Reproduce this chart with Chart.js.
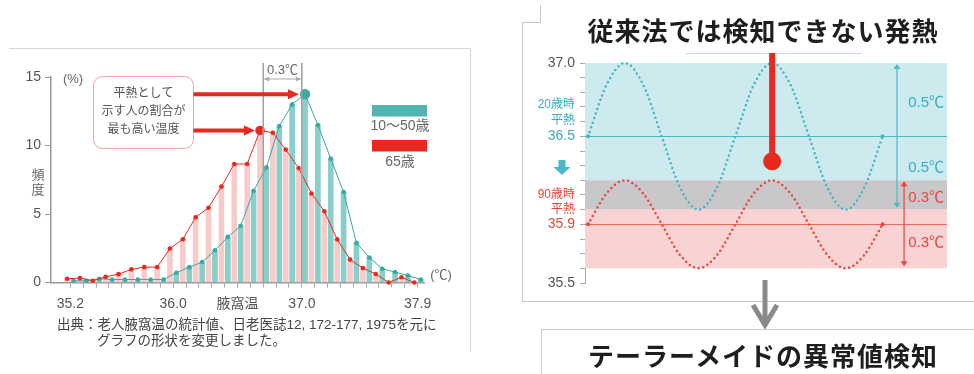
<!DOCTYPE html>
<html lang="ja">
<head>
<meta charset="utf-8">
<script src="https://cdn.jsdelivr.net/npm/chart.js@4.4.1/dist/chart.umd.min.js"></script>
<style>
  html, body { margin: 0; padding: 0; background: #fff; }
  body { width: 974px; height: 374px; position: relative; overflow: hidden;
         font-family: "Liberation Sans", "Noto Sans CJK JP", sans-serif; }
  canvas { position: absolute; top: 0; }
  #axillary { left: 0; }
  #drift { left: 522px; }
  svg { position: absolute; left: 0; top: 0; }
  .txt { position: absolute; white-space: nowrap; }
  .head { font-family: "Noto Sans CJK JP", sans-serif; font-weight: bold; font-size: 26px;
          letter-spacing: 1px; color: #1e1e1e; text-align: center; width: 440px; left: 543px; line-height: 34px; }
  .note { font-size: 13.5px; color: #444; line-height: 16px; }
</style>
</head>
<body>
<svg width="974" height="374">
  <!-- panel frames -->
  <polyline points="9,48.5 470.5,48.5 470.5,352" fill="none" stroke="#d6d6d6" stroke-width="1"/>
  <path d="M540.5,5 V22.5 H522.5 V301.5 H974" fill="none" stroke="#c4c4c4" stroke-width="1"/>
  <path d="M541.5,374 V329.5 H974" fill="none" stroke="#cccccc" stroke-width="1"/>
  <!-- connector arrow -->
  <line x1="765" y1="280" x2="765" y2="322" stroke="#8a8a8a" stroke-width="5"/>
  <polyline points="753,305 765,325 777,305" fill="none" stroke="#8a8a8a" stroke-width="5" stroke-linejoin="miter"/>
</svg>

<canvas id="axillary" width="480" height="374"></canvas>
<canvas id="drift" width="452" height="374"></canvas>

<div class="txt head" style="top:13px;">従来法では検知できない発熱</div>
<div class="txt head" style="top:338px;">テーラーメイドの異常値検知</div>
<div class="txt note" style="left:57px; top:317px;">出典：老人腋窩温の統計値、日老医誌12, 172-177, 1975を元に</div>
<div class="txt note" style="left:97px; top:333px;">グラフの形状を変更しました。</div>

<script>
// ---- Axillary temperature distribution (% of people per 0.1℃ bin) ----
const bins = [35.2, 35.3, 35.4, 35.5, 35.6, 35.7, 35.8, 35.9, 36.0, 36.1,
              36.2, 36.3, 36.4, 36.5, 36.6, 36.7, 36.8, 36.9, 37.0, 37.1,
              37.2, 37.3, 37.4, 37.5, 37.6, 37.7, 37.8, 37.9];
const elderly = [0.27, 0.32, 0.13, 0.42, 0.61, 0.96, 1.12, 1.12, 2.48, 3.16,
                 4.76, 5.46, 7.0, 8.65, 8.65, 11.1, 10.93, 9.7, 8.36, 6.5,
                 5.2, 3.15, 1.67, 1.05, 0.62, 0.0, 0.38, 0.0];
const adults = [0.13, 0.13, 0.27, 0.22, 0.22, 0.22, 0.22, 0.22, 0.71, 1.12,
                1.49, 2.35, 3.33, 4.14, 6.69, 8.4, 11.42, 13.0, 13.75, 11.5,
                9.04, 6.6, 2.89, 1.82, 1.0, 0.76, 0.51, 0.22];
const xTickText = { 352: '35.2', 360: '36.0', 365: '腋窩温', 370: '37.0', 379: '37.9' };
const seriesNames = ['10～50歳', '65歳'];

// ---- Daily body-temperature swing, young vs. very old ----
const hours = [0.5, 3.5, 6.5, 9.5, 12.5, 15.5, 18.5, 21.5, 24.5, 27.5,
               30.5, 33.5, 36.5, 39.5, 42.5, 45.5, 48.5];
const youngTemp = [36.5, 36.85, 37.0, 36.85, 36.5, 36.15, 36.0, 36.15, 36.5, 36.85,
                   37.0, 36.85, 36.5, 36.15, 36.0, 36.15, 36.5];
const oldTemp = [35.9, 36.11, 36.2, 36.11, 35.9, 35.69, 35.6, 35.69, 35.9, 36.11,
                 36.2, 36.11, 35.9, 35.69, 35.6, 35.69, 35.9];
const meanTemp = [36.5, 35.9];      // 20歳時 / 90歳時 平熱
const swing = [0.5, 0.3];           // half range of each daily cycle
const fever = [{ x: 30.5, y: 36.33 }];
const yTickText = { 370: '37.0', 365: '36.5', 359: '35.9', 355: '35.5' };

const FONT = '"Liberation Sans", "Noto Sans CJK JP", sans-serif';
Chart.defaults.font.family = FONT;

const RED = '#e8291f';
const PINK = '#f8caca';
const TEAL = '#3aa9a1';
const TEAL_BAR = '#88cfca';
const BLUE = '#44b3c4';
const BLUE_TXT = '#3aabc0';
const RED_TXT = '#e8453c';

const pairShift = 0.025;   // side-by-side placement inside each 0.1℃ bin
const oldPts = bins.map((b, i) => ({ x: b - pairShift, y: elderly[i] }));
const adultPts = bins.map((b, i) => ({ x: b + pairShift, y: adults[i] }));
const oldPeak = Math.max(...elderly);
const adultPeak = Math.max(...adults);

function font(px, weight) { return (weight ? weight + ' ' : '') + px + 'px ' + FONT; }

function headArrow(ctx, x1, x2, yy) {
  ctx.strokeStyle = RED; ctx.fillStyle = RED; ctx.lineWidth = 4;
  ctx.beginPath(); ctx.moveTo(x1, yy); ctx.lineTo(x2 - 8, yy); ctx.stroke();
  ctx.beginPath(); ctx.moveTo(x2, yy); ctx.lineTo(x2 - 11, yy - 5); ctx.lineTo(x2 - 11, yy + 5);
  ctx.closePath(); ctx.fill();
}

const distributionDecor = {
  id: 'distributionDecor',
  afterDatasetsDraw(chart) {
    const { ctx, scales: { x, y } } = chart;
    const iOld = elderly.indexOf(oldPeak);
    const iAd = adults.indexOf(adultPeak);
    const xa = x.getPixelForValue(bins[iOld]);
    const xb = x.getPixelForValue(bins[iAd]);
    const y0 = y.getPixelForValue(0);
    ctx.save();
    // guides at the two modal bins
    ctx.strokeStyle = '#a0a0a0'; ctx.lineWidth = 1.5;
    [xa, xb].forEach(px => { ctx.beginPath(); ctx.moveTo(px, 63); ctx.lineTo(px, y0); ctx.stroke(); });
    // 0.3℃ span
    const by = 79;
    ctx.strokeStyle = '#aaaaaa'; ctx.fillStyle = '#aaaaaa'; ctx.lineWidth = 1;
    ctx.beginPath(); ctx.moveTo(xa + 1, by); ctx.lineTo(xb - 1, by); ctx.stroke();
    ctx.beginPath(); ctx.moveTo(xa + 1, by); ctx.lineTo(xa + 6, by - 2.5); ctx.lineTo(xa + 6, by + 2.5); ctx.fill();
    ctx.beginPath(); ctx.moveTo(xb - 1, by); ctx.lineTo(xb - 6, by - 2.5); ctx.lineTo(xb - 6, by + 2.5); ctx.fill();
    ctx.fillStyle = '#666'; ctx.font = font(13); ctx.textAlign = 'center'; ctx.textBaseline = 'middle';
    ctx.fillText((bins[iAd] - bins[iOld]).toFixed(1) + '℃', (xa + xb) / 2, 70);

    // callout
    ctx.fillStyle = '#fff'; ctx.strokeStyle = '#f0a3a3'; ctx.lineWidth = 1;
    ctx.beginPath(); ctx.roundRect(93.5, 76.5, 100, 72, 9); ctx.fill(); ctx.stroke();
    ctx.fillStyle = '#555'; ctx.font = font(12);
    ctx.fillText('平熱として', 143.5, 93.5);
    ctx.fillText('示す人の割合が', 143.5, 111.5);
    ctx.fillText('最も高い温度', 143.5, 129.5);

    // arrows to the two modes
    headArrow(ctx, 193.5, x.getPixelForValue(bins[iAd] + pairShift) - 6, y.getPixelForValue(adultPeak));
    headArrow(ctx, 193.5, x.getPixelForValue(bins[iOld] - pairShift) - 5, y.getPixelForValue(oldPeak));

    // legend
    ctx.fillStyle = '#4fb5ae'; ctx.fillRect(372, 105, 55, 11.5);
    ctx.fillStyle = RED; ctx.fillRect(372, 140, 55, 11.5);
    ctx.fillStyle = '#666'; ctx.font = font(14);
    ctx.fillText(seriesNames[0], 400, 126);
    ctx.fillText(seriesNames[1], 400, 162.5);

    // unit labels
    ctx.font = font(13); ctx.fillStyle = '#666';
    ctx.fillText('(%)', 73, 79);
    ctx.fillText('(℃)', 441, 275);
    ctx.fillText('頻', 38, 175);
    ctx.fillText('度', 38, 190);
    ctx.restore();
  }
};

new Chart(document.getElementById('axillary'), {
  type: 'line',
  data: {
    datasets: [
      { type: 'line', label: seriesNames[1], data: oldPts, borderColor: RED, borderWidth: 1,
        pointBackgroundColor: RED, pointBorderWidth: 0, clip: false, order: 0,
        pointRadius: c => (c.raw && c.raw.y === oldPeak ? 4.8 : 2.3) },
      { type: 'line', label: seriesNames[0], data: adultPts, borderColor: TEAL, borderWidth: 1,
        pointBackgroundColor: TEAL, pointBorderWidth: 0, clip: false, order: 0,
        pointRadius: c => (c.raw && c.raw.y === adultPeak ? 5.2 : 2.3) },
      { type: 'bar', data: oldPts, backgroundColor: PINK, barThickness: 5, grouped: false, order: 2 },
      { type: 'bar', data: adultPts, backgroundColor: TEAL_BAR, barThickness: 5, grouped: false, order: 2 }
    ]
  },
  options: {
    responsive: false, animation: false,
    layout: { padding: { left: 0, top: 77, right: 56, bottom: 52 } },
    plugins: { legend: { display: false }, tooltip: { enabled: false } },
    scales: {
      x: {
        type: 'linear', min: 35.05, max: 37.95, offset: false,
        afterBuildTicks: s => { s.ticks = bins.map(v => ({ value: v })); },
        afterFit: s => { s.height = 39.5; },
        ticks: { autoSkip: false, maxRotation: 0, padding: 8, color: '#555', font: { size: 14 },
                 callback: v => xTickText[Math.round(v * 10)] || '' },
        grid: { drawOnChartArea: false, tickLength: 5, color: '#a5a5a5', offset: false },
        border: { color: '#9a9a9a', width: 1.5 }
      },
      y: {
        min: 0, max: 15,
        afterFit: s => { s.width = 51; },
        ticks: { stepSize: 5, padding: 4, color: '#555', font: { size: 14 } },
        grid: { drawOnChartArea: false, tickLength: 6, color: '#9a9a9a' },
        border: { color: '#9a9a9a', width: 1.5 }
      }
    }
  },
  plugins: [distributionDecor]
});

// ---- right panel ----
function vDouble(ctx, x, y1, y2, color) {
  ctx.strokeStyle = color; ctx.fillStyle = color; ctx.lineWidth = 1.2;
  ctx.beginPath(); ctx.moveTo(x, y1 + 3); ctx.lineTo(x, y2 - 3); ctx.stroke();
  ctx.beginPath(); ctx.moveTo(x, y1); ctx.lineTo(x - 3.5, y1 + 5); ctx.lineTo(x + 3.5, y1 + 5); ctx.fill();
  ctx.beginPath(); ctx.moveTo(x, y2); ctx.lineTo(x - 3.5, y2 - 5); ctx.lineTo(x + 3.5, y2 - 5); ctx.fill();
}

const driftDecor = {
  id: 'driftDecor',
  beforeDatasetsDraw(chart) {
    const { ctx, chartArea: a, scales: { y } } = chart;
    const w = a.right - a.left;
    const youngTop = y.getPixelForValue(meanTemp[0] + swing[0]);
    const youngBot = y.getPixelForValue(meanTemp[0] - swing[0]);
    const oldTop = y.getPixelForValue(meanTemp[1] + swing[1]);
    const oldBot = y.getPixelForValue(meanTemp[1] - swing[1]);
    ctx.save();
    ctx.fillStyle = '#cdebee'; ctx.fillRect(a.left, youngTop, w, oldTop - youngTop);
    ctx.fillStyle = '#c9c7c9'; ctx.fillRect(a.left, oldTop, w, youngBot - oldTop);
    ctx.fillStyle = '#f9d3d3'; ctx.fillRect(a.left, youngBot, w, oldBot - youngBot);
    ctx.lineWidth = 1;
    ctx.strokeStyle = '#4fb6c6';
    let py = Math.round(y.getPixelForValue(meanTemp[0])) + 0.5;
    ctx.beginPath(); ctx.moveTo(a.left, py); ctx.lineTo(a.right, py); ctx.stroke();
    ctx.strokeStyle = '#ea6a60';
    py = Math.round(y.getPixelForValue(meanTemp[1])) + 0.5;
    ctx.beginPath(); ctx.moveTo(a.left, py); ctx.lineTo(a.right, py); ctx.stroke();
    ctx.restore();
  },
  afterDatasetsDraw(chart) {
    const { ctx, chartArea: a, scales: { x, y } } = chart;
    ctx.save();
    // fever marker stem
    const fx = x.getPixelForValue(fever[0].x);
    const fy = y.getPixelForValue(fever[0].y);
    ctx.strokeStyle = '#f4c9c9'; ctx.lineWidth = 1;
    ctx.beginPath(); ctx.moveTo(x.getPixelForValue(16.5), 53.5); ctx.lineTo(x.getPixelForValue(45.1), 53.5); ctx.stroke();
    ctx.strokeStyle = RED; ctx.lineWidth = 6;
    ctx.beginPath(); ctx.moveTo(fx, 53); ctx.lineTo(fx, fy - 6); ctx.stroke();

    // ranges on the right
    const bx = x.getPixelForValue(50.85), rx = x.getPixelForValue(52.0);
    vDouble(ctx, bx, y.getPixelForValue(meanTemp[0] + swing[0]) + 1, y.getPixelForValue(meanTemp[0] - swing[0]) - 2, '#4fb6c6');
    vDouble(ctx, rx, y.getPixelForValue(meanTemp[1] + swing[1]) + 1, y.getPixelForValue(meanTemp[1] - swing[1]) - 2, '#e8453c');
    ctx.font = font(15); ctx.textAlign = 'right'; ctx.textBaseline = 'middle';
    ctx.fillStyle = BLUE_TXT;
    ctx.fillText(swing[0].toFixed(1) + '℃', a.right - 3, 103);
    ctx.fillText(swing[0].toFixed(1) + '℃', a.right - 3, 168);
    ctx.fillStyle = RED_TXT;
    ctx.fillText(swing[1].toFixed(1) + '℃', a.right - 3, 198);
    ctx.fillText(swing[1].toFixed(1) + '℃', a.right - 3, 243);

    // age captions next to the axis
    const lx = a.left - 10;
    ctx.font = font(12);
    ctx.fillStyle = BLUE_TXT;
    const yY = y.getPixelForValue(meanTemp[0]);
    ctx.fillText('20歳時', lx, yY - 32);
    ctx.fillText('平熱', lx, yY - 16);
    ctx.fillStyle = RED_TXT;
    const yO = y.getPixelForValue(meanTemp[1]);
    ctx.fillText('90歳時', lx, yO - 30);
    ctx.fillText('平熱', lx, yO - 15);

    // shift arrow from young to old
    ctx.fillStyle = '#4bb6c8';
    ctx.fillRect(36.5, 160, 7, 7);
    ctx.beginPath(); ctx.moveTo(31.5, 167); ctx.lineTo(48.5, 167); ctx.lineTo(40, 175); ctx.closePath(); ctx.fill();
    ctx.restore();
  }
};

const wave = (temps, color) => ({
  data: hours.map((h, i) => ({ x: h, y: temps[i] })),
  borderColor: color, borderWidth: 2.5, borderDash: [0, 4.8], borderCapStyle: 'round',
  cubicInterpolationMode: 'monotone', clip: false,
  pointBackgroundColor: color, pointBorderWidth: 0,
  pointRadius: c => (c.dataIndex === 0 || c.dataIndex === hours.length - 1 ? 2 : 0)
});

new Chart(document.getElementById('drift'), {
  type: 'line',
  data: {
    datasets: [
      wave(youngTemp, BLUE),
      wave(oldTemp, '#e8453c'),
      { data: fever, showLine: false, pointRadius: 9, pointBackgroundColor: RED, pointBorderWidth: 0, clip: false }
    ]
  },
  options: {
    responsive: false, animation: false,
    layout: { padding: { left: 0, top: 63, right: 27, bottom: 91 } },
    plugins: { legend: { display: false }, tooltip: { enabled: false } },
    scales: {
      x: { type: 'linear', min: 0, max: 59, display: false },
      y: {
        min: 35.5, max: 37.0,
        afterBuildTicks: s => {
          const t = [];
          for (let k = 355; k <= 370; k++) t.push({ value: k / 10 });
          s.ticks = t;
        },
        afterFit: s => { s.width = 63; },
        ticks: {
          autoSkip: false, padding: 5, font: { size: 14 },
          callback: v => yTickText[Math.round(v * 10)] || '',
          color: c => {
            const k = Math.round(c.tick.value * 10);
            return k === 365 ? BLUE_TXT : (k === 359 ? RED_TXT : '#555');
          }
        },
        grid: { drawOnChartArea: false, tickLength: 5, color: '#aaaaaa' },
        border: { color: '#aaaaaa', width: 1 }
      }
    }
  },
  plugins: [driftDecor]
});
</script>
</body>
</html>
